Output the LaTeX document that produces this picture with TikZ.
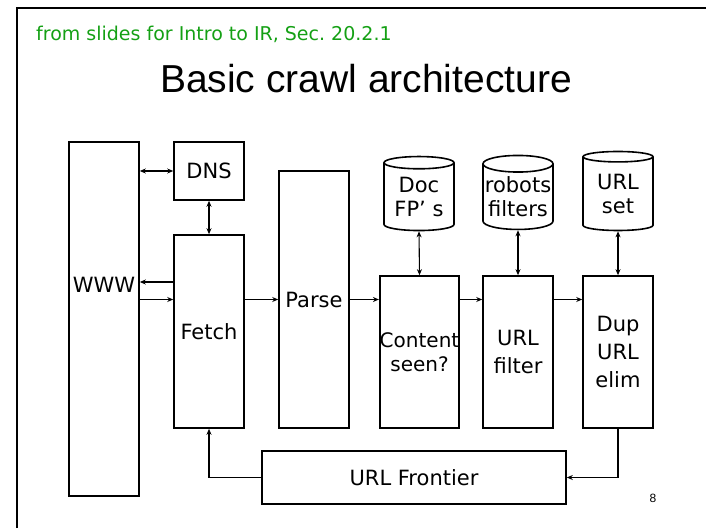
\documentclass[tikz,border=0pt]{standalone}
\usepackage{fontspec}
\setmainfont{DejaVu Sans}
\newfontfamily\headfont{Liberation Sans}
\usepackage{tikz}
\usetikzlibrary{shapes.geometric, arrows.meta, positioning, calc}
\definecolor{slidegreen}{RGB}{20,160,20}
\tikzset{stage/.style={rectangle,draw,line width=1.6pt,minimum width=70pt,align=center,inner sep=0pt,font=\fontsize{21}{28}\selectfont},
         store/.style={cylinder,shape border rotate=90,draw,line width=1.6pt,minimum width=70pt,shape aspect=0.25,align=center,inner sep=0pt,font=\fontsize{21}{24}\selectfont},
         arrow/.style={-{Stealth[length=6pt,width=5pt]},line width=1.1pt},
         darrow/.style={{Stealth[length=6pt,width=5pt]}-{Stealth[length=6pt,width=5pt]},line width=1.1pt}}

\begin{document}
\begin{tikzpicture}[x=1pt,y=1pt]
    \useasboundingbox (0,0) rectangle (706,528);
    % slide frame and headings
    \draw[line width=2.5pt] (17,0) -- (17,520) -- (706,520);
    \node (source) [anchor=base west, text=slidegreen, font=\fontsize{19}{22}\selectfont\frenchspacing, inner sep=0pt] at (36,487) {from slides for Intro to IR, Sec. 20.2.1};
    \node (title) [anchor=base, font=\headfont\fontsize{39}{44}\selectfont, inner sep=0pt] at (366,435) {Basic crawl architecture};
    % left column
    \node (www) [stage, minimum height=354pt] at (104,209) {};
    \node (wwwtext) [font=\fontsize{21}{28}\selectfont, inner sep=0pt] at (104,243) {WWW};
    \node (dns) [stage, minimum height=58pt] at (209,357) {DNS};
    \node (fetch) [stage, minimum height=193pt] at (209,196.5) {Fetch};
    \node (parse) [stage, minimum height=257pt] at (314,228.5) {Parse};
    % filter chain and its stores
    \node (content) [stage, minimum width=71pt, minimum height=152pt, font=\fontsize{20}{24}\selectfont] at (419.5,176) {Content\\seen?};
    \node (urlfilter) [stage, minimum height=152pt] at (518,176) {URL\\filter};
    \node (dup) [stage, minimum height=152pt] at (618,176) {Dup\\URL\\elim};
    \node (docfp) [store, minimum height=74pt] at (419,331) {Doc\\FP’ s};
    \node (robots) [store, minimum height=74pt] at (518,331) {robots\\filters};
    \node (urlset) [store, minimum height=79pt] at (618,334) {URL\\set};
    \node (frontier) [stage, minimum width=304pt, minimum height=53pt] at (414,50.5) {URL Frontier};
    \node (pagenum) [font=\headfont\fontsize{12}{14}\selectfont] at (653,30) {8};
    % connectors
    \draw[darrow] (dns.west -| www.east) -- (dns.west);
    \draw[darrow] (dns.south) -- (fetch.north);
    \draw[arrow] (fetch.west |- 0,246) -- (www.east |- 0,246);
    \draw[arrow] (www.east |- parse.west) -- (fetch.west |- parse.west);
    \draw[arrow] (fetch.east |- parse.west) -- (parse.west);
    \draw[arrow] (parse.east) -- (content.west |- parse.east);
    \draw[arrow] (content.east |- parse.east) -- (urlfilter.west |- parse.east);
    \draw[arrow] (urlfilter.east |- parse.east) -- (dup.west |- parse.east);
    \foreach \s/\b in {docfp/content,robots/urlfilter,urlset/dup} {\draw[darrow] (\s.south) -- (\b.north);}
    \draw[arrow] (dup.south) |- (frontier.east);
    \draw[arrow] (frontier.west) -| (fetch.south);
\end{tikzpicture}
\end{document}
